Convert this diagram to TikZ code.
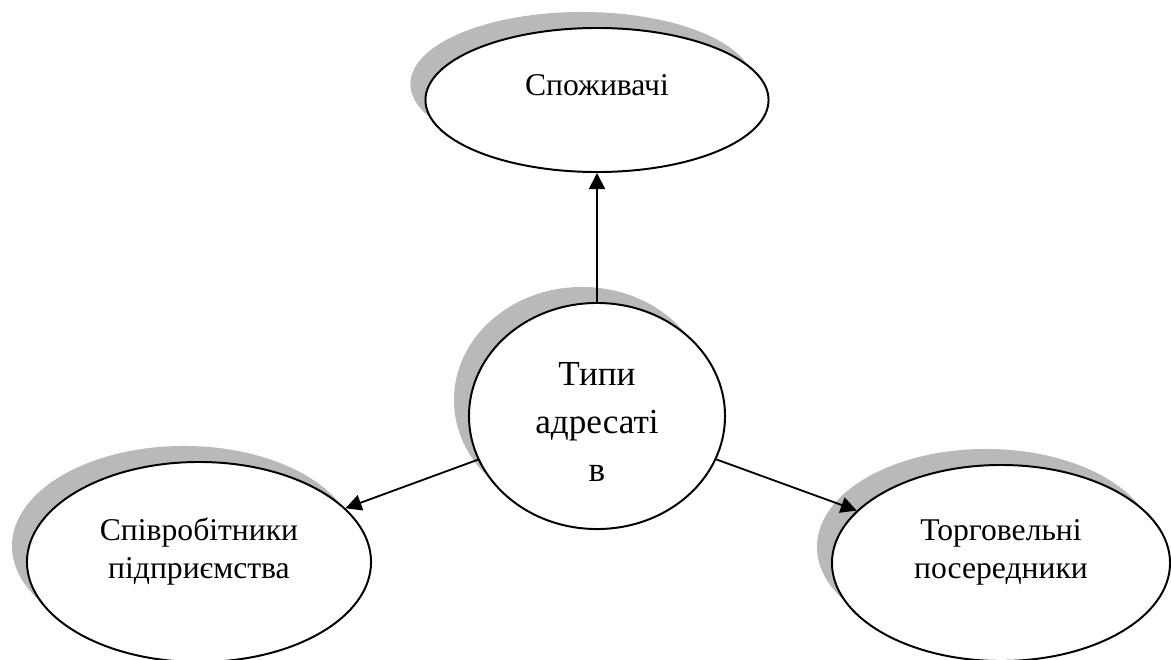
\documentclass[tikz,border=0pt]{standalone}
\usepackage{fontspec}
\setmainfont{Liberation Serif}
\usetikzlibrary{shapes.geometric,shadows,arrows.meta}

\tikzset{
  bubble/.style={ellipse, draw, line width=1.4pt, fill=white,
    drop shadow={shadow xshift=-0.375cm, shadow yshift=0.4cm, fill=gray!55, opacity=1}},
  arr/.style={line width=1.3pt, -{Triangle[length=0.4cm,width=0.4cm]}},
  bigtext/.style={align=center, inner sep=0pt, font=\fontsize{25}{34}\selectfont},
  smalltext/.style={align=center, inner sep=0pt, font=\fontsize{22.5}{27}\selectfont}
}

\begin{document}
\begin{tikzpicture}[x=0.025cm, y=-0.025cm]
        \useasboundingbox (0,0) rectangle (1171,659);

        % ellipses
        \node (T) at (597,100) [bubble, minimum width=8.575cm, minimum height=3.6cm] {};
        \node (C) at (597,416) [bubble, minimum width=6.4cm, minimum height=5.65cm] {};
        \node (L) at (199,562) [bubble, minimum width=8.6cm, minimum height=5cm] {};
        \node (R) at (1001,563) [bubble, minimum width=8.45cm, minimum height=4.9cm] {};

        % arrows
        \draw[arr] (C) -- (T);
        \draw[arr] (C) -- (L);
        \draw[arr] (C) -- (R);

        % texts
        \node at (T) [smalltext, yshift=0.375cm] (Ttext) {Споживачі};
        \node at (C) [bigtext, yshift=-0.15cm] (Ctext) {Типи\\адресаті\\в};
        \node at (L) [smalltext, yshift=0.25cm] (Ltext) {Співробітники\\підприємства};
        \node at (R) [smalltext, yshift=0.275cm] (Rtext) {Торговельні\\посередники};
\end{tikzpicture}
\end{document}
